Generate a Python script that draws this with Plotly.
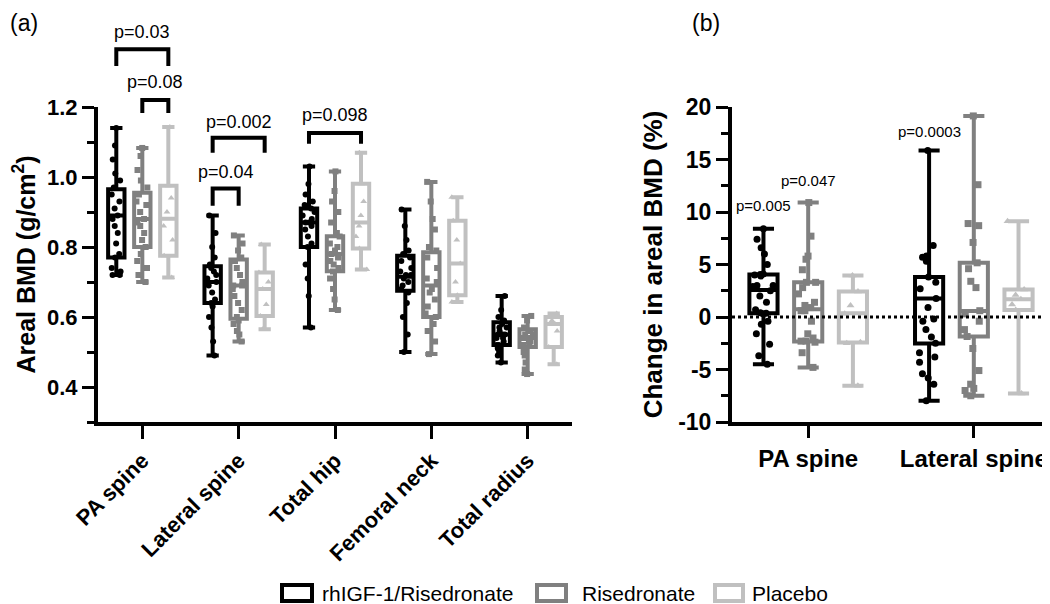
import plotly.graph_objects as go
from plotly.subplots import make_subplots

# the page body keeps its default 8px margin, so the figure starts 8px in
# from the window corner; size it to reach the window's right and bottom edges
OFF = 8
W, H = 1050 - OFF, 604 - OFF

groups = ["rhIGF-1/Risedronate", "Risedronate", "Placebo"]
sites_a = ["PA spine", "Lateral spine", "Total hip", "Femoral neck", "Total radius"]
sites_b = ["PA spine", "Lateral spine"]

# ---- panel (a): areal BMD (g/cm2), box stats per site
a_igf_lo = [0.72, 0.49, 0.57, 0.50, 0.47]
a_igf_q1 = [0.77, 0.64, 0.80, 0.675, 0.52]
a_igf_med = [0.89, 0.70, 0.87, 0.715, 0.55]
a_igf_q3 = [0.965, 0.745, 0.91, 0.775, 0.585]
a_igf_hi = [1.14, 0.89, 1.03, 0.907, 0.66]

a_ris_lo = [0.70, 0.53, 0.62, 0.494, 0.437]
a_ris_q1 = [0.80, 0.595, 0.731, 0.60, 0.514]
a_ris_med = [0.88, 0.69, 0.78, 0.69, 0.54]
a_ris_q3 = [0.955, 0.764, 0.831, 0.785, 0.565]
a_ris_hi = [1.083, 0.833, 1.016, 0.986, 0.603]

a_pla_lo = [0.713, 0.565, 0.736, 0.643, 0.465]
a_pla_q1 = [0.775, 0.603, 0.796, 0.662, 0.514]
a_pla_med = [0.881, 0.68, 0.87, 0.753, 0.58]
a_pla_q3 = [0.975, 0.727, 0.981, 0.875, 0.60]
a_pla_hi = [1.143, 0.807, 1.069, 0.942, 0.61]

# individual subjects, panel (a)
a_igf_pts = [
    [1.14, 1.09, 1.05, 1.01, 0.99, 0.97, 0.95, 0.93, 0.91, 0.89, 0.88, 0.86, 0.84, 0.81, 0.78, 0.77, 0.74, 0.73, 0.72, 0.72],
    [0.89, 0.84, 0.80, 0.77, 0.75, 0.74, 0.73, 0.72, 0.71, 0.70, 0.70, 0.69, 0.67, 0.65, 0.64, 0.63, 0.60, 0.57, 0.53, 0.49],
    [1.03, 0.98, 0.95, 0.93, 0.92, 0.91, 0.90, 0.89, 0.88, 0.87, 0.87, 0.86, 0.85, 0.83, 0.81, 0.80, 0.75, 0.71, 0.66, 0.57],
    [0.907, 0.86, 0.82, 0.79, 0.78, 0.77, 0.76, 0.74, 0.73, 0.72, 0.72, 0.71, 0.70, 0.69, 0.68, 0.67, 0.64, 0.60, 0.55, 0.50],
    [0.66, 0.62, 0.60, 0.59, 0.58, 0.57, 0.57, 0.56, 0.55, 0.55, 0.55, 0.54, 0.54, 0.53, 0.52, 0.52, 0.51, 0.50, 0.49, 0.47],
]
a_ris_pts = [
    [1.083, 1.06, 1.02, 0.99, 0.97, 0.95, 0.93, 0.92, 0.90, 0.88, 0.87, 0.86, 0.84, 0.82, 0.80, 0.78, 0.76, 0.74, 0.72, 0.70],
    [0.833, 0.81, 0.79, 0.77, 0.76, 0.74, 0.72, 0.70, 0.69, 0.69, 0.68, 0.66, 0.64, 0.62, 0.60, 0.59, 0.58, 0.56, 0.55, 0.53],
    [1.016, 0.96, 0.93, 0.90, 0.87, 0.84, 0.83, 0.81, 0.80, 0.79, 0.78, 0.77, 0.76, 0.75, 0.74, 0.73, 0.71, 0.68, 0.65, 0.62],
    [0.986, 0.93, 0.88, 0.85, 0.80, 0.79, 0.77, 0.74, 0.71, 0.70, 0.68, 0.67, 0.65, 0.63, 0.61, 0.60, 0.58, 0.56, 0.53, 0.494],
    [0.603, 0.59, 0.57, 0.56, 0.56, 0.55, 0.55, 0.54, 0.54, 0.54, 0.53, 0.53, 0.52, 0.52, 0.51, 0.50, 0.49, 0.47, 0.45, 0.437],
]
a_pla_pts = [
    [1.143, 0.975, 0.94, 0.90, 0.86, 0.82, 0.775, 0.713],
    [0.807, 0.727, 0.70, 0.68, 0.636, 0.603, 0.565],
    [1.069, 0.981, 0.93, 0.89, 0.86, 0.83, 0.796, 0.736],
    [0.942, 0.875, 0.82, 0.753, 0.70, 0.662, 0.643],
    [0.61, 0.60, 0.59, 0.58, 0.56, 0.514, 0.465],
]
a_ticks = [0.4, 0.6, 0.8, 1.0, 1.2]

# ---- panel (b): change in areal BMD (%)
b_igf_lo = [-4.5, -7.97]
b_igf_q1 = [0.35, -2.53]
b_igf_med = [2.56, 1.77]
b_igf_q3 = [4.05, 3.8]
b_igf_hi = [8.4, 15.85]

b_ris_lo = [-4.8, -7.5]
b_ris_q1 = [-2.34, -1.86]
b_ris_med = [0.73, 0.57]
b_ris_q3 = [3.32, 5.16]
b_ris_hi = [10.9, 19.15]

b_pla_lo = [-6.55, -7.28]
b_pla_q1 = [-2.44, 0.66]
b_pla_med = [0.35, 1.68]
b_pla_q3 = [2.44, 2.63]
b_pla_hi = [3.95, 9.11]

b_igf_pts = [
    [8.4, 7.4, 6.6, 6.0, 5.0, 4.1, 4.05, 4.0, 3.9, 3.0, 3.0, 2.9, 2.5, 2.0, 1.4, 0.7, 0.4, 0.35, 0.3, -0.4, -0.7, -1.6, -2.6, -3.7, -4.5],
    [15.85, 6.8, 5.8, 5.7, 5.3, 3.8, 3.3, 2.7, 1.77, 0.9, -0.2, -0.4, -1.2, -1.9, -2.5, -3.4, -3.8, -4.3, -5.4, -5.8, -6.4, -7.97],
]
b_ris_pts = [
    [10.9, 7.7, 5.8, 5.5, 4.5, 3.3, 3.3, 2.8, 2.2, 1.4, 1.1, 0.9, 0.6, 0.6, -0.4, -1.6, -2.0, -2.3, -2.3, -2.4, -3.4, -4.8],
    [19.15, 12.6, 8.9, 8.7, 7.1, 5.16, 4.6, 3.4, 2.8, 0.6, 0.3, -0.4, -1.2, -1.86, -3.0, -5.1, -6.4, -6.8, -7.0, -7.5],
]
b_pla_pts = [
    [3.95, 2.44, 1.1, 0.3, -2.4, -2.5, -6.55],
    [9.11, 2.63, 2.1, 1.68, 1.2, 0.66, -7.28],
]
b_ticks = [-10, -5, 0, 5, 10, 15, 20]

# p-value brackets in panel (a): (group i, group j, site, bracket top, leg bottom, label y, text)
a_pvals = [
    (0, 2, 0, 1.365, 1.317, 1.413, "p=0.03"),
    (1, 2, 0, 1.220, 1.183, 1.271, "p=0.08"),
    (0, 2, 1, 1.112, 1.069, 1.157, "p=0.002"),
    (0, 1, 1, 0.967, 0.918, 1.015, "p=0.04"),
    (0, 2, 2, 1.126, 1.095, 1.177, "p=0.098"),
]
# p-values in panel (b): (group, site, y, text)
b_pvals = [
    (0, 0, 10.6, "p=0.005"),
    (1, 0, 13.0, "p=0.047"),
    (0, 1, 17.7, "p=0.0003"),
]

colors = ["#000000", "#808080", "#c0c0c0"]
symbols = ["circle", "square", "triangle-up"]
off = [-0.27, 0.0, 0.27]
bw = 0.17
FONT = "Liberation Sans, Arial, sans-serif"


def fx(p):
    # window pixel -> paper x
    return (p - OFF) / W


def fy(p):
    # window pixel -> paper y
    return 1 - (p - OFF) / H


fig = make_subplots(rows=1, cols=2)


def add_group(col, n_sites, stats, pts, k, msize):
    lo, q1, med, q3, hi = stats
    pos = [i + off[k] for i in range(n_sites)]
    fig.add_trace(go.Box(x=pos, q1=q1, median=med, q3=q3, lowerfence=lo, upperfence=hi,
                         width=bw, whiskerwidth=0.75, fillcolor="white",
                         line=dict(color=colors[k], width=4), boxpoints=False,
                         name=groups[k], hoverinfo="skip"), row=1, col=col)
    xs, ys = [], []
    for p, vals in zip(pos, pts):
        xs += [p] * len(vals)
        ys += vals
    fig.add_trace(go.Box(x=xs, y=ys, width=bw, boxpoints="all", jitter=0.8, pointpos=0,
                         fillcolor="rgba(0,0,0,0)", line=dict(width=0, color=colors[k]),
                         marker=dict(color=colors[k], symbol=symbols[k], size=msize),
                         name=groups[k], hoverinfo="skip"), row=1, col=col)


add_group(1, 5, (a_igf_lo, a_igf_q1, a_igf_med, a_igf_q3, a_igf_hi), a_igf_pts, 0, 6)
add_group(1, 5, (a_ris_lo, a_ris_q1, a_ris_med, a_ris_q3, a_ris_hi), a_ris_pts, 1, 6)
add_group(1, 5, (a_pla_lo, a_pla_q1, a_pla_med, a_pla_q3, a_pla_hi), a_pla_pts, 2, 6)
add_group(2, 2, (b_igf_lo, b_igf_q1, b_igf_med, b_igf_q3, b_igf_hi), b_igf_pts, 0, 7)
add_group(2, 2, (b_ris_lo, b_ris_q1, b_ris_med, b_ris_q3, b_ris_hi), b_ris_pts, 1, 7)
add_group(2, 2, (b_pla_lo, b_pla_q1, b_pla_med, b_pla_q3, b_pla_hi), b_pla_pts, 2, 7)

ydom = [fy(422), fy(107)]
yr_a = [0.3, 1.2]


def a_paper(v):
    return ydom[0] + (v - yr_a[0]) / (yr_a[1] - yr_a[0]) * (ydom[1] - ydom[0])


shapes = []
annotations = []
for gi, gj, s, top, leg, ty, txt in a_pvals:
    x0, x1 = s + off[gi], s + off[gj]
    shapes.append(dict(type="path", xref="x", yref="paper",
                       path=f"M{x0},{a_paper(leg)} L{x0},{a_paper(top)} L{x1},{a_paper(top)} L{x1},{a_paper(leg)}",
                       line=dict(color="black", width=4)))
    annotations.append(dict(x=(x0 + x1) / 2, y=a_paper(ty), xref="x", yref="paper", text=txt,
                            yanchor="middle", showarrow=False, font=dict(size=18)))
for g, s, y, txt in b_pvals:
    annotations.append(dict(x=s + off[g], y=y, xref="x2", yref="y2", text=txt,
                            yanchor="middle", showarrow=False, font=dict(size=15)))

# dotted zero line runs across the boxes
shapes.append(dict(type="line", xref="x2", yref="y2", x0=-0.46, x1=1.46, y0=0, y1=0,
                   line=dict(color="black", width=3, dash="dot"), layer="above"))

annotations.append(dict(x=0, y=1, xref="paper", yref="paper", xanchor="left", yanchor="top",
                        text="(a)", showarrow=False, font=dict(size=23)))
annotations.append(dict(x=fx(690), y=1, xref="paper", yref="paper", xanchor="left", yanchor="top",
                        text="(b)", showarrow=False, font=dict(size=23)))

# legend drawn as outlined boxes with labels below the panels
legend_x = [(282, 312, 320), (537, 566, 580), (715, 743, 750)]
for k, (x0, x1, tx) in enumerate(legend_x):
    shapes.append(dict(type="rect", xref="paper", yref="paper", x0=fx(x0), x1=fx(x1),
                       y0=fy(601), y1=fy(585), line=dict(color=colors[k], width=4),
                       fillcolor="white"))
    annotations.append(dict(x=fx(tx), y=fy(593), xref="paper", yref="paper", xanchor="left",
                            yanchor="middle", text=groups[k], showarrow=False,
                            font=dict(size=21)))

ax = dict(showline=True, linewidth=4, linecolor="black", ticks="outside", tickwidth=3,
          tickcolor="black", showgrid=False, zeroline=False, automargin=False)
fig.update_xaxes(**ax)
fig.update_yaxes(**ax)

fig.update_layout(
    width=W, height=H,
    margin=dict(l=0, r=0, t=0, b=0),
    paper_bgcolor="white", plot_bgcolor="white",
    font=dict(family=FONT, color="black"),
    boxmode="overlay",
    showlegend=False,
    xaxis=dict(domain=[fx(98), fx(572)], range=[-0.46, 4.46], tickvals=list(range(5)),
               ticktext=sites_a, tickangle=-45, ticklen=13,
               tickfont=dict(size=22, weight="bold")),
    yaxis=dict(domain=ydom, range=yr_a, tickvals=a_ticks, tickformat=".1f", ticklen=12,
               tickfont=dict(size=22, weight="bold"),
               minor=dict(dtick=0.1, ticklen=7, tickwidth=3, tickcolor="black", ticks="outside"),
               title=dict(text="Areal BMD (g/cm<sup>2</sup>)", standoff=12,
                          font=dict(size=25, weight="bold"))),
    xaxis2=dict(domain=[fx(732), 1.0], range=[-0.46, 1.46], tickvals=[0, 1],
                ticktext=sites_b, ticklen=12, tickfont=dict(size=24, weight="bold")),
    yaxis2=dict(domain=ydom, range=[-10, 20], tickvals=b_ticks,
                ticktext=[str(t) for t in b_ticks], ticklen=12,
                tickfont=dict(size=23, weight="bold"),
                minor=dict(dtick=2.5, ticklen=7, tickwidth=3, tickcolor="black", ticks="outside"),
                title=dict(text="Change in areal BMD (%)", standoff=9,
                           font=dict(size=26, weight="bold"))),
    shapes=shapes,
    annotations=annotations,
)

fig.write_html("out.html")
